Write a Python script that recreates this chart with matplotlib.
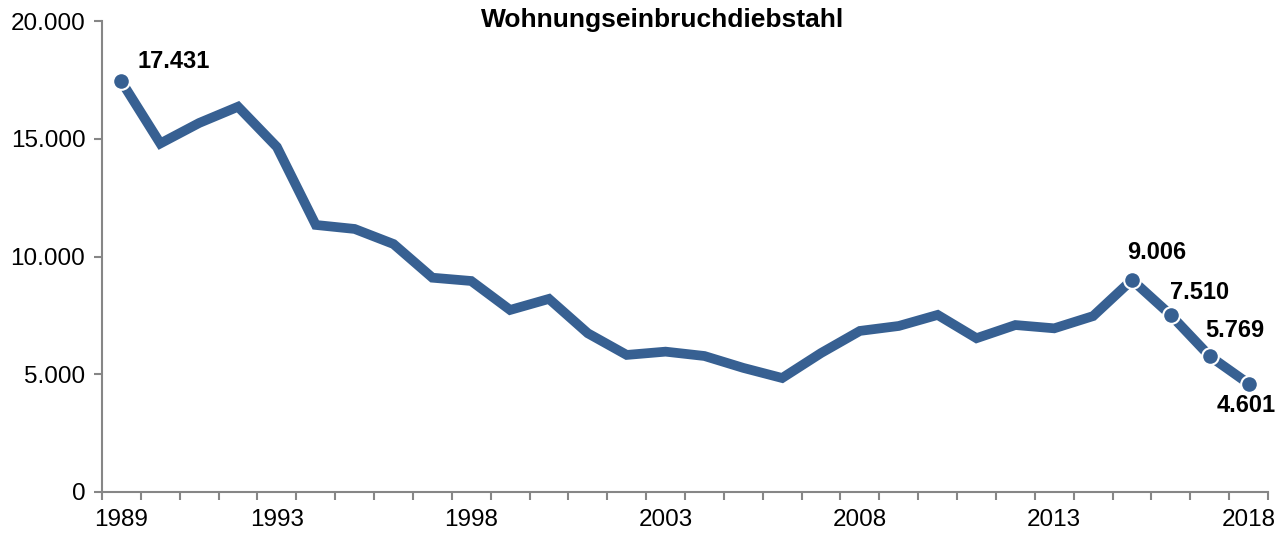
import matplotlib
matplotlib.use("Agg")
import matplotlib.pyplot as plt
from matplotlib.ticker import FuncFormatter, FixedLocator

plt.rcParams['font.family'] = ['Liberation Sans', 'DejaVu Sans']

years = list(range(1989, 2019))
cases = [17431, 14800, 15670, 16360, 14650, 11340, 11170, 10530, 9100, 8960,
         7730, 8200, 6740, 5820, 5960, 5775, 5270, 4840, 5900, 6840,
         7050, 7520, 6530, 7090, 6950, 7470, 9006, 7510, 5769, 4601]
tick_years = [1989, 1993, 1998, 2003, 2008, 2013, 2018]
marked_years = [1989, 2015, 2016, 2017, 2018]
# label offsets in pixels (dx, dy) and alignment
label_offsets = {1989: (16, 20, 'left'), 2015: (25, 27, 'center'),
                 2016: (29, 23, 'center'), 2017: (25, 26, 'center'),
                 2018: (-2, -22, 'center')}

line_col = '#376092'
axis_col = '#868686'

fig = plt.figure(figsize=(12.78, 5.33), dpi=100)
ax = fig.add_axes([102/1278, 1-492/533, 1166/1278, 471/533])

x = list(range(len(years)))
ax.plot(x, cases, color=line_col, lw=7, solid_joinstyle='miter', zorder=2)

mx = [years.index(y) for y in marked_years]
my = [cases[i] for i in mx]
ax.plot(mx, my, 'o', ms=12, mfc=line_col, mec='white', mew=1.5, zorder=3)

for yr in marked_years:
    i = years.index(yr)
    dx, dy, ha = label_offsets[yr]
    ax.annotate(f"{cases[i]:,}".replace(',', '.'), (i, cases[i]),
                xytext=(dx, dy), textcoords='offset pixels',
                ha=ha, va='center', fontsize=17, fontweight='bold')

ax.set_xlim(-0.5, len(years) - 0.5)
ax.set_ylim(0, 20000)
ax.set_yticks(range(0, 20001, 5000))
ax.yaxis.set_major_formatter(FuncFormatter(lambda v, p: f"{int(v):,}".replace(',', '.')))

ax.xaxis.set_major_locator(FixedLocator([years.index(y) for y in tick_years]))
ax.set_xticklabels([str(y) for y in tick_years])
ax.xaxis.set_minor_locator(FixedLocator([i - 0.5 for i in range(len(years) + 1)]))
ax.tick_params(axis='x', which='major', length=0, pad=12, labelsize=17.5)
ax.tick_params(axis='x', which='minor', length=6, width=1.5, color=axis_col)
ax.tick_params(axis='y', length=6, width=1.5, color=axis_col, labelsize=17.5, pad=6)

for s in ['top', 'right']:
    ax.spines[s].set_visible(False)
for s in ['left', 'bottom']:
    ax.spines[s].set_color(axis_col)
    ax.spines[s].set_linewidth(1.5)

fig.text(663/1278, 1-20/533, 'Wohnungseinbruchdiebstahl', ha='center', va='center',
         fontsize=19, fontweight='bold')

fig.savefig('out.png', dpi=100)
